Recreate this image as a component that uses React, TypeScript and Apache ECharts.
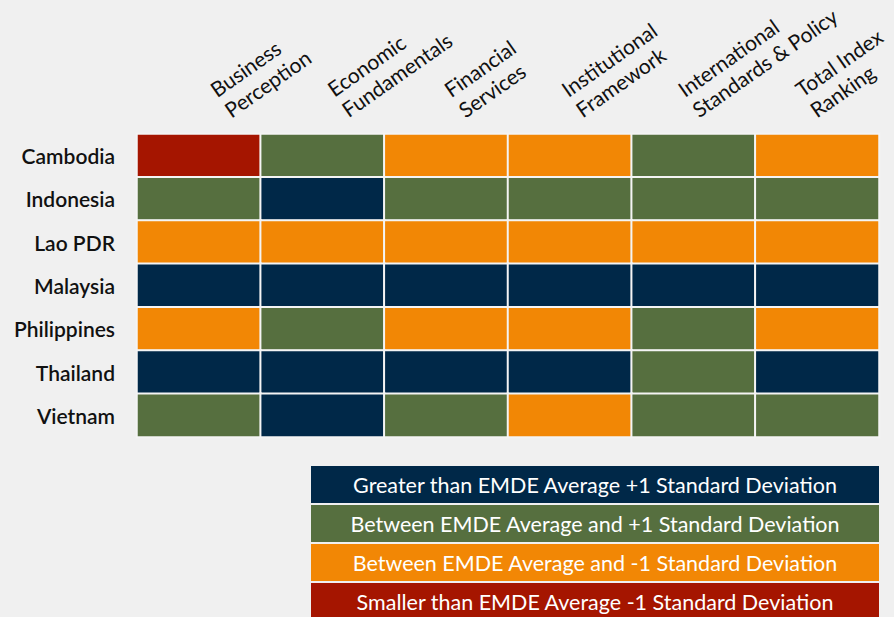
import React, { useEffect, useRef } from "react";
import * as echarts from "echarts";

const indicators = [
  "Business\nPerception",
  "Economic\nFundamentals",
  "Financial\nServices",
  "Institutional\nFramework",
  "International\nStandards & Policy",
  "Total Index\nRanking",
];
const countries = ["Cambodia", "Indonesia", "Lao PDR", "Malaysia", "Philippines", "Thailand", "Vietnam"];
// 0 = below -1 SD, 1 = between avg and -1 SD, 2 = between avg and +1 SD, 3 = above +1 SD
const cambodia = [0, 2, 1, 1, 2, 1];
const indonesia = [2, 3, 2, 2, 2, 2];
const laoPDR = [1, 1, 1, 1, 1, 1];
const malaysia = [3, 3, 3, 3, 3, 3];
const philippines = [1, 2, 1, 1, 2, 1];
const thailand = [3, 3, 3, 3, 2, 3];
const vietnam = [2, 3, 2, 1, 2, 2];
const rows = [cambodia, indonesia, laoPDR, malaysia, philippines, thailand, vietnam];

const levelColors = ["#a51500", "#f28705", "#566f3f", "#002848"];
const legendLabels = [
  "Greater than EMDE Average +1 Standard Deviation",
  "Between EMDE Average and +1 Standard Deviation",
  "Between EMDE Average and -1 Standard Deviation",
  "Smaller than EMDE Average -1 Standard Deviation",
];
const legendLevels = [3, 2, 1, 0];

// per-label nudges of the rotated header labels (padding: left, bottom)
const headerPadLeft = [27, 22, 16, 11, 5, 0];
const headerPadBottom = [5, 13, 20, 28, 36, 43];

export default function App() {
  const ref = useRef<HTMLDivElement>(null);
  useEffect(() => {
    document.body.style.margin = "0";
    const chart = echarts.init(ref.current!, null, { renderer: "svg" });
    const data: number[][] = [];
    rows.forEach((r, yi) => r.forEach((v, xi) => data.push([xi, yi, v])));
    const legendGraphics: any[] = [];
    legendLabels.forEach((label, i) => {
      const y = 466 + i * 39;
      legendGraphics.push({
        type: "rect",
        shape: { x: 311, y, width: 568, height: 37 },
        style: { fill: levelColors[legendLevels[i]] },
      });
      legendGraphics.push({
        type: "text",
        x: 595,
        y: y + 19,
        style: {
          text: label,
          fill: "#ffffff",
          font: "21.5px Lato",
          align: "center",
          verticalAlign: "middle",
        },
      });
    });
    chart.setOption({
      animation: false,
      backgroundColor: "#f0f0f0",
      grid: {
        left: 137,
        right: 15,
        top: 134,
        bottom: 180,
        containLabel: false,
        outerBoundsMode: "none",
      },
      xAxis: {
        type: "category",
        position: "top",
        data: indicators.map((name, i) => ({
          value: name,
          textStyle: { padding: [0, 0, headerPadBottom[i], headerPadLeft[i]] },
        })),
        axisLine: { show: false },
        axisTick: { show: false },
        splitArea: { show: false },
        axisLabel: {
          rotate: -35,
          margin: 15,
          fontFamily: "Lato",
          fontSize: 21,
          color: "#111",
          lineHeight: 25,
          align: "left",
          interval: 0,
          hideOverlap: false,
          rich: { s: { fontSize: 21, fontFamily: "Lato", color: "#111" } },
        },
      },
      yAxis: {
        type: "category",
        data: countries,
        inverse: true,
        axisLine: { show: false },
        axisTick: { show: false },
        axisLabel: {
          margin: 22,
          fontFamily: "Lato",
          fontSize: 21,
          fontWeight: 600,
          color: "#111",
        },
      },
      visualMap: {
        type: "piecewise",
        show: false,
        dimension: 2,
        pieces: levelColors.map((c, i) => ({ value: i, color: c })),
      },
      series: [
        {
          type: "heatmap",
          data,
          itemStyle: { borderColor: "#f4f4f4", borderWidth: 2 },
          label: { show: false },
        },
      ],
      graphic: legendGraphics,
    });
    return () => chart.dispose();
  }, []);
  return <div ref={ref} style={{ width: 894, height: 617 }} />;
}
